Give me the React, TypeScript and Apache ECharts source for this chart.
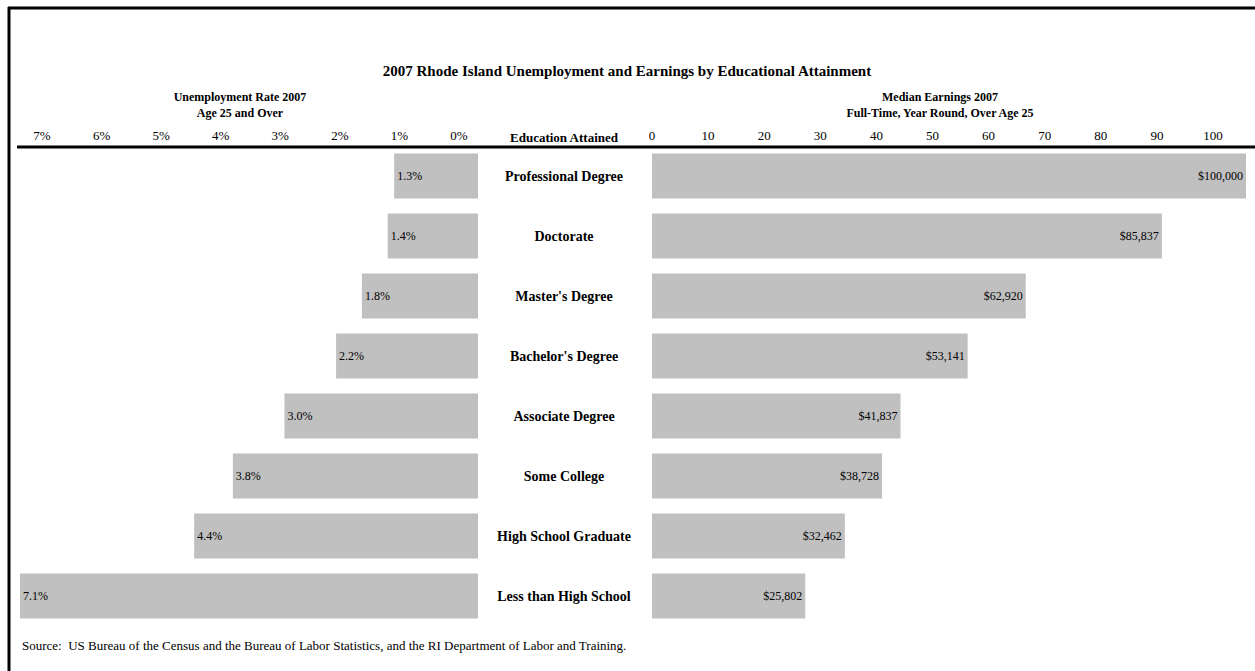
import React, { useEffect, useRef } from "react";
import * as echarts from "echarts";

const categories = [
  "Professional Degree",
  "Doctorate",
  "Master's Degree",
  "Bachelor's Degree",
  "Associate Degree",
  "Some College",
  "High School Graduate",
  "Less than High School",
];
const unemploymentRate = [1.3, 1.4, 1.8, 2.2, 3.0, 3.8, 4.4, 7.1];
const medianEarnings = [100000, 85837, 62920, 53141, 41837, 38728, 32462, 25802];
const leftTicks = [0, 1, 2, 3, 4, 5, 6, 7];
const rightTicks = [0, 10, 20, 30, 40, 50, 60, 70, 80, 90, 100];

const FONT = "'Liberation Serif', 'Times New Roman', serif";
const BAR = "#C0C0C0";

export default function App() {
  const ref = useRef<HTMLDivElement>(null);
  useEffect(() => {
    document.body.style.margin = "0";
    const chart = echarts.init(ref.current!, null, { renderer: "svg" });
    const rowTop = 146;
    const rowH = 480;
    chart.setOption({
      animation: false,
      backgroundColor: "#ffffff",
      textStyle: { fontFamily: FONT, color: "#000" },
      grid: [
        { left: 20, width: 458, top: rowTop, height: rowH },
        { left: 652, width: 594, top: rowTop, height: rowH },
        { left: 42, width: 417, top: 145, height: 1 },
        { left: 652, width: 561, top: 145, height: 1 },
      ],
      xAxis: [
        { type: "value", gridIndex: 0, min: 0, max: 7.1, inverse: true, show: false },
        { type: "value", gridIndex: 1, min: 0, max: 100000, show: false },
        {
          type: "value",
          gridIndex: 2,
          min: 0,
          max: 7,
          interval: 1,
          inverse: true,
          position: "top",
          axisLine: { show: false },
          axisTick: { show: false },
          splitLine: { show: false },
          axisLabel: {
            margin: 3,
            fontFamily: FONT,
            fontSize: 13,
            color: "#000",
            formatter: (v: number) => (leftTicks.includes(v) ? v + "%" : ""),
          },
        },
        {
          type: "value",
          gridIndex: 3,
          min: 0,
          max: 100,
          interval: 10,
          position: "top",
          axisLine: { show: false },
          axisTick: { show: false },
          splitLine: { show: false },
          axisLabel: {
            margin: 3,
            fontFamily: FONT,
            fontSize: 13,
            color: "#000",
            formatter: (v: number) => (rightTicks.includes(v) ? String(v) : ""),
          },
        },
      ],
      yAxis: [
        { type: "category", gridIndex: 0, data: categories, inverse: true, show: false },
        {
          type: "category",
          gridIndex: 1,
          data: categories,
          inverse: true,
          axisLine: { show: false },
          axisTick: { show: false },
          axisLabel: {
            margin: 88,
            align: "center",
            fontFamily: FONT,
            fontSize: 14,
            fontWeight: "bold",
            color: "#000",
          },
        },
        { type: "value", gridIndex: 2, show: false },
        { type: "value", gridIndex: 3, show: false },
      ],
      series: [
        {
          type: "bar",
          xAxisIndex: 0,
          yAxisIndex: 0,
          data: unemploymentRate,
          barWidth: 45,
          itemStyle: { color: BAR },
          label: {
            show: true,
            position: "insideLeft",
            distance: 3,
            fontFamily: FONT,
            fontSize: 12,
            color: "#000",
            formatter: (p: any) => p.value.toFixed(1) + "%",
          },
        },
        {
          type: "bar",
          xAxisIndex: 1,
          yAxisIndex: 1,
          data: medianEarnings,
          barWidth: 45,
          itemStyle: { color: BAR },
          label: {
            show: true,
            position: "insideRight",
            distance: 3,
            fontFamily: FONT,
            fontSize: 12,
            color: "#000",
            formatter: (p: any) => "$" + p.value.toLocaleString("en-US"),
          },
        },
      ],
      graphic: [
        { type: "line", shape: { x1: 8, y1: 8, x2: 1255, y2: 8 }, style: { stroke: "#000", lineWidth: 3 } },
        { type: "line", shape: { x1: 9, y1: 7, x2: 9, y2: 671 }, style: { stroke: "#000", lineWidth: 3 } },
        { type: "line", shape: { x1: 17, y1: 147, x2: 1255, y2: 147 }, style: { stroke: "#000", lineWidth: 3 } },
        {
          type: "text",
          x: 627,
          y: 71,
          style: {
            text: "2007 Rhode Island Unemployment and Earnings by Educational Attainment",
            font: "bold 15px " + FONT,
            fill: "#000",
            align: "center",
            verticalAlign: "middle",
          },
        },
        {
          type: "text",
          x: 240,
          y: 97,
          style: { text: "Unemployment Rate 2007", font: "bold 12px " + FONT, fill: "#000", align: "center", verticalAlign: "middle" },
        },
        {
          type: "text",
          x: 240,
          y: 113,
          style: { text: "Age 25 and Over", font: "bold 12px " + FONT, fill: "#000", align: "center", verticalAlign: "middle" },
        },
        {
          type: "text",
          x: 940,
          y: 97,
          style: { text: "Median Earnings 2007", font: "bold 12px " + FONT, fill: "#000", align: "center", verticalAlign: "middle" },
        },
        {
          type: "text",
          x: 940,
          y: 113,
          style: { text: "Full-Time, Year Round, Over Age 25", font: "bold 12px " + FONT, fill: "#000", align: "center", verticalAlign: "middle" },
        },
        {
          type: "text",
          x: 564,
          y: 137,
          style: { text: "Education Attained", font: "bold 13px " + FONT, fill: "#000", align: "center", verticalAlign: "middle" },
        },
        {
          type: "text",
          x: 22,
          y: 645,
          style: {
            text: "Source:  US Bureau of the Census and the Bureau of Labor Statistics, and the RI Department of Labor and Training.",
            font: "13px " + FONT,
            fill: "#000",
            align: "left",
            verticalAlign: "middle",
          },
        },
      ],
    });
    return () => chart.dispose();
  }, []);
  return <div ref={ref} style={{ width: 1255, height: 671 }} />;
}
